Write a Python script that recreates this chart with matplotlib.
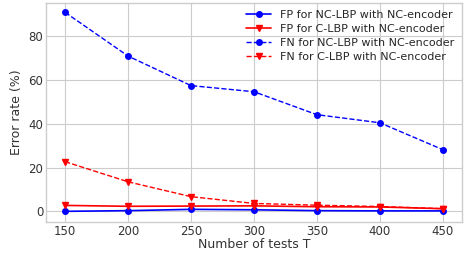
import numpy as np
import matplotlib
matplotlib.use("Agg")
import matplotlib.pyplot as plt

plt.style.use("seaborn-v0_8-whitegrid")
plt.rcParams["font.family"] = ["DejaVu Sans"]

T = [150, 200, 250, 300, 350, 400, 450]
fp_nc = [0.0, 0.3, 0.9, 0.7, 0.3, 0.2, 0.2]
fp_c = [2.7, 2.3, 2.4, 2.5, 2.1, 2.0, 1.2]
fn_nc = [91.0, 71.0, 57.5, 54.7, 44.2, 40.5, 28.2]
fn_c = [22.7, 13.5, 6.7, 3.6, 2.8, 2.2, 1.2]

fig, ax = plt.subplots(figsize=(4.77, 2.54), dpi=100)

ax.plot(T, fp_nc, "b-o", markersize=4, lw=1.2, label="FP for NC-LBP with NC-encoder")
ax.plot(T, fp_c, "r-v", markersize=4, lw=1.2, label="FP for C-LBP with NC-encoder")
ax.plot(T, fn_nc, "b--o", markersize=4, lw=1.0, label="FN for NC-LBP with NC-encoder")
ax.plot(T, fn_c, "r--v", markersize=4, lw=1.0, label="FN for C-LBP with NC-encoder")

ax.set_xlim(135, 465)
ax.set_ylim(-5, 95.5)
ax.set_xticks(T)
ax.set_yticks([0, 20, 40, 60, 80])
ax.tick_params(labelsize=8.5, colors="#333333", pad=2)
ax.set_xlabel("Number of tests T", fontsize=9, color="#333333", labelpad=0)
ax.set_ylabel("Error rate (%)", fontsize=9, color="#333333")
for s in ax.spines.values():
    s.set_visible(True)
    s.set_color("#cccccc")

ax.legend(loc="upper right", fontsize=8, frameon=False, handlelength=2.2,
          borderaxespad=0.3, labelspacing=0.35)

fig.subplots_adjust(left=0.097, right=0.968, top=0.99, bottom=0.125)
fig.savefig("out.png")
